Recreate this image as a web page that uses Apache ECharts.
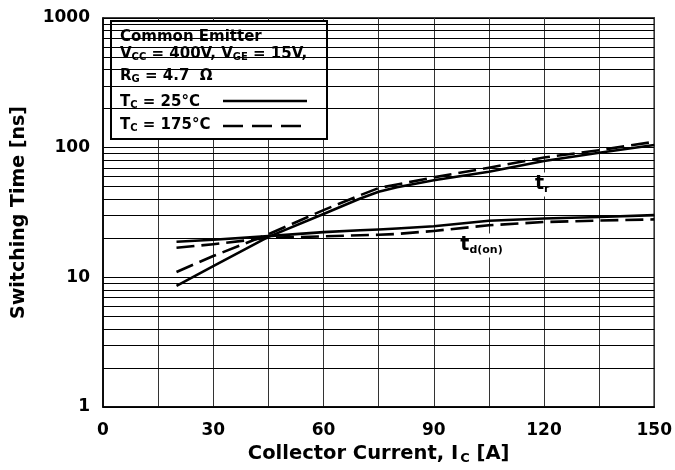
<!DOCTYPE html>
<html>
<head>
<meta charset="utf-8">
<title>Switching Time vs Collector Current</title>
<script src="https://cdn.jsdelivr.net/npm/echarts@6/dist/echarts.min.js"></script>
<style>
  html, body { margin: 0; padding: 0; background: #fff; }
  #chart { width: 675px; height: 470px; }
</style>
</head>
<body>
<div id="chart"></div>
<script>
// Collector current sample points [A]
const currentA = [20, 30, 45, 60, 70, 75, 80, 90, 105, 120, 135, 150];
// Rise time t_r [ns]
const tr25 = [8.6, 12.2, 20.5, 30.8, 40.5, 45.7, 49.5, 56, 65.2, 79, 91.4, 105];
const tr175 = [11.0, 14.6, 21.5, 33, 43, 48.8, 52, 59, 70, 84, 95.6, 111];
// Turn-on delay time t_d(on) [ns]
const tdon25 = [18.8, 19.5, 20.8, 22.3, 23.1, 23.4, 23.8, 24.8, 27.3, 28.4, 29.2, 30.2];
const tdon175 = [16.9, 18.0, 20.2, 20.7, 21.1, 21.3, 21.6, 22.8, 25.2, 26.7, 27.4, 28.0];
// Axis ticks
const xTicks = [0, 30, 60, 90, 120, 150];
const yTicks = [1, 10, 100, 1000];
// Curve annotation anchors [A, ns]
const trLabelAt = [119.5, 52];
const tdLabelAt = [103, 17.6];

const FONT = 'DejaVu Sans';
const pairs = (xs, ys) => xs.map((x, i) => [x, ys[i]]);

// Log-grid minor lines at 2..9 of every decade
const minorLines = [];
for (let d = 1; d < 1000; d *= 10) {
  for (let k = 2; k <= 9; k++) minorLines.push({ yAxis: k * d });
}

const curve = (name, ys, dashed) => ({
  name, type: 'line', data: pairs(currentA, ys), z: 5,
  smooth: false, showSymbol: false, symbol: 'none',
  lineStyle: { color: '#000', width: 2.6, type: dashed ? [18, 7] : 'solid', join: 'round' }
});

const legendRich = {
  b: { fill: '#000', font: 'bold 15px "DejaVu Sans"', lineHeight: 20 },
  s: { fill: '#000', font: 'bold 10px "DejaVu Sans"', lineHeight: 20, padding: [7, 0, 0, 0] }
};

const chart = echarts.init(document.getElementById('chart'), null, { renderer: 'canvas' });
chart.setOption({
  animation: false,
  backgroundColor: '#fff',
  grid: { left: 103, right: 17, top: 18, bottom: 63, show: true, borderColor: '#000', borderWidth: 1.5, backgroundColor: 'transparent' },
  xAxis: {
    type: 'value', min: 0, max: 150, interval: 15,
    axisLine: { lineStyle: { color: '#000', width: 1.5 } },
    axisTick: { show: false },
    splitLine: { show: true, lineStyle: { color: '#333', width: 1 } },
    axisLabel: {
      margin: 15, color: '#000', fontFamily: FONT, fontWeight: 'bold', fontSize: 17,
      formatter: v => xTicks.includes(v) ? String(v) : ''
    },
    name: '{a|Collector Current, I}{s|C}{a| [A]}',
    nameLocation: 'middle', nameGap: 30,
    nameTextStyle: {
      rich: {
        a: { fontFamily: FONT, fontWeight: 'bold', fontSize: 19.5, color: '#000', lineHeight: 24 },
        s: { fontFamily: FONT, fontWeight: 'bold', fontSize: 13, color: '#000', lineHeight: 24, padding: [8, 0, 0, 2] }
      }
    }
  },
  yAxis: {
    type: 'log', logBase: 10, min: 1, max: 1000,
    axisLine: { lineStyle: { color: '#000', width: 1.5 } },
    axisTick: { show: false },
    splitLine: { show: true, lineStyle: { color: '#000', width: 1 } },
    axisLabel: {
      margin: 13, color: '#000', fontFamily: FONT, fontWeight: 'bold', fontSize: 17,
      formatter: v => yTicks.includes(Math.round(v)) ? String(Math.round(v)) : ''
    },
    name: 'Switching Time [ns]',
    nameLocation: 'middle', nameGap: 74, nameRotate: 90,
    nameTextStyle: { fontFamily: FONT, fontWeight: 'bold', fontSize: 19, color: '#000' }
  },
  series: [
    {
      name: 'grid-minor', type: 'line', data: [], z: 1, silent: true,
      markLine: {
        silent: true, symbol: 'none', animation: false,
        label: { show: false },
        lineStyle: { color: '#000', width: 1, type: 'solid' },
        data: minorLines
      }
    },
    curve('t_r 25°C', tr25, false),
    curve('t_r 175°C', tr175, true),
    curve('t_d(on) 25°C', tdon25, false),
    curve('t_d(on) 175°C', tdon175, true)
  ]
});

// Curve names on white plates, anchored through the axis scales
const plate = (at, main, sub, w) => {
  const [px, py] = chart.convertToPixel({ gridIndex: 0 }, at);
  return {
    type: 'group', x: px, y: py, z: 4, silent: true,
    children: [
      { type: 'rect', shape: { x: -w / 2, y: -12, width: w, height: 24 }, style: { fill: '#fff' } },
      { type: 'text', x: 0, y: 0,
        style: {
          text: '{m|' + main + '}{s|' + sub + '}', align: 'center', verticalAlign: 'middle',
          rich: {
            m: { fill: '#000', font: 'bold 19px "DejaVu Sans"', lineHeight: 22 },
            s: { fill: '#000', font: 'bold 11px "DejaVu Sans"', lineHeight: 22, padding: [10, 0, 0, 0] }
          }
        } }
    ]
  };
};

chart.setOption({
  graphic: [
    plate(trLabelAt, 't', 'r', 59),
    plate(tdLabelAt, 't', 'd(on)', 59),
    {
      type: 'group', left: 110, top: 20, z: 20,
      children: [
        { type: 'rect', shape: { x: 0, y: 0, width: 216, height: 118 },
          style: { fill: '#fff', stroke: '#000', lineWidth: 2 } },
        { type: 'text', x: 9, y: 16,
          style: { text: 'Common Emitter', fill: '#000', font: 'bold 15px "DejaVu Sans"', verticalAlign: 'middle' } },
        { type: 'text', x: 9, y: 33,
          style: { text: '{b|V}{s|CC}{b| = 400V, V}{s|GE}{b| = 15V,}', verticalAlign: 'middle', rich: legendRich } },
        { type: 'text', x: 9, y: 55,
          style: { text: '{b|R}{s|G}{b| = 4.7  Ω}', verticalAlign: 'middle', rich: legendRich } },
        { type: 'text', x: 9, y: 81,
          style: { text: '{b|T}{s|C}{b| = 25°C}', verticalAlign: 'middle', rich: legendRich } },
        { type: 'line', shape: { x1: 112, y1: 80, x2: 196, y2: 80 },
          style: { stroke: '#000', lineWidth: 2.6 } },
        { type: 'text', x: 9, y: 104,
          style: { text: '{b|T}{s|C}{b| = 175°C}', verticalAlign: 'middle', rich: legendRich } },
        { type: 'line', shape: { x1: 112, y1: 105, x2: 196, y2: 105 },
          style: { stroke: '#000', lineWidth: 2.6, lineDash: [20, 9] } }
      ]
    }
  ]
});
</script>
</body>
</html>
